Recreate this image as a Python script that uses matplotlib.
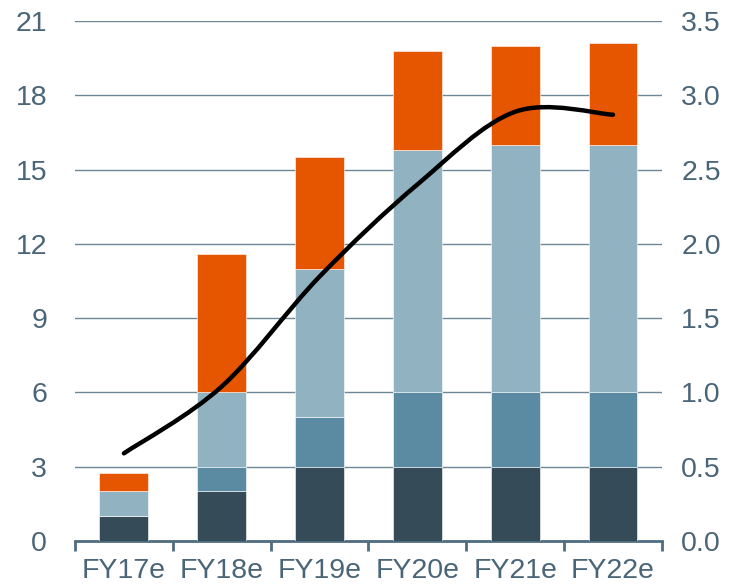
import numpy as np
import matplotlib.pyplot as plt
from matplotlib.path import Path
from matplotlib.patches import PathPatch

plt.rcParams["font.family"] = ["Liberation Sans", "DejaVu Sans"]

years = ["FY17e", "FY18e", "FY19e", "FY20e", "FY21e", "FY22e"]
seg_dark = [1.0, 2.0, 3.0, 3.0, 3.0, 3.0]
seg_mid = [0.0, 1.0, 2.0, 3.0, 3.0, 3.0]
seg_light = [1.0, 3.0, 6.0, 9.8, 10.0, 10.0]
seg_orange = [0.75, 5.6, 4.5, 4.0, 4.0, 4.1]
line_vals = [0.59, 1.04, 1.78, 2.40, 2.89, 2.87]

colors = ["#364b58", "#5b8ba3", "#91b2c1", "#e65500"]
txt = "#4a6577"


def smooth_path(x, y, k=1 / 6):
    # Catmull-Rom through the points, drawn as cubic bezier segments
    x = np.asarray(x, float)
    y = np.asarray(y, float)
    px = np.concatenate([[x[0]], x, [x[-1]]])
    py = np.concatenate([[y[0]], y, [y[-1]]])
    verts = [(x[0], y[0])]
    codes = [Path.MOVETO]
    for i in range(1, len(x)):
        c1 = (px[i] + (px[i + 1] - px[i - 1]) * k, py[i] + (py[i + 1] - py[i - 1]) * k)
        c2 = (px[i + 1] - (px[i + 2] - px[i]) * k, py[i + 1] - (py[i + 2] - py[i]) * k)
        verts += [c1, c2, (x[i], y[i])]
        codes += [Path.CURVE4] * 3
    return Path(verts, codes)


fig = plt.figure(figsize=(7.33, 5.87), dpi=100)
ax = fig.add_axes([0.1023, 0.0784, 0.8007, 0.8856])
x = np.arange(len(years))

bottom = np.zeros(len(years))
for seg, c in zip([seg_dark, seg_mid, seg_light, seg_orange], colors):
    ax.bar(x, seg, width=0.5, bottom=bottom, color=c, edgecolor="white",
           linewidth=0.4, zorder=3)
    bottom += np.array(seg)

ax.set_xlim(-0.5, len(years) - 0.5)
ax.set_ylim(0, 21)
ax.set_yticks(np.arange(0, 22, 3))
ax.grid(axis="y", color="#6d8797", linewidth=1.0, zorder=0)
ax.set_axisbelow(True)

for s in ["top", "right", "left"]:
    ax.spines[s].set_visible(False)
ax.spines["bottom"].set_color("#4f6d80")
ax.spines["bottom"].set_linewidth(2)

ax.set_xticks(x)
ax.set_xticklabels(years)
ax.tick_params(axis="x", length=0, labelsize=20.5, labelcolor=txt, pad=12)
ax.set_xticks(np.arange(-0.5, len(years), 1.0), minor=True)
ax.tick_params(axis="x", which="minor", length=7, width=2, color="#4f6d80")
ax.tick_params(axis="y", length=0, labelsize=20.5, labelcolor=txt, pad=20)

ax2 = ax.twinx()
ax2.set_ylim(0, 3.5)
ax2.set_yticks(np.arange(0, 3.6, 0.5))
ax2.set_yticklabels([f"{v:.1f}" for v in np.arange(0, 3.6, 0.5)])
ax2.tick_params(axis="y", length=0, labelsize=20.5, labelcolor=txt, pad=14)
for s in ["top", "right", "left", "bottom"]:
    ax2.spines[s].set_visible(False)

ax2.add_patch(PathPatch(smooth_path(x, line_vals), facecolor="none",
                        edgecolor="black", linewidth=3.2, capstyle="round",
                        zorder=5))

fig.savefig("out.png", dpi=100)
